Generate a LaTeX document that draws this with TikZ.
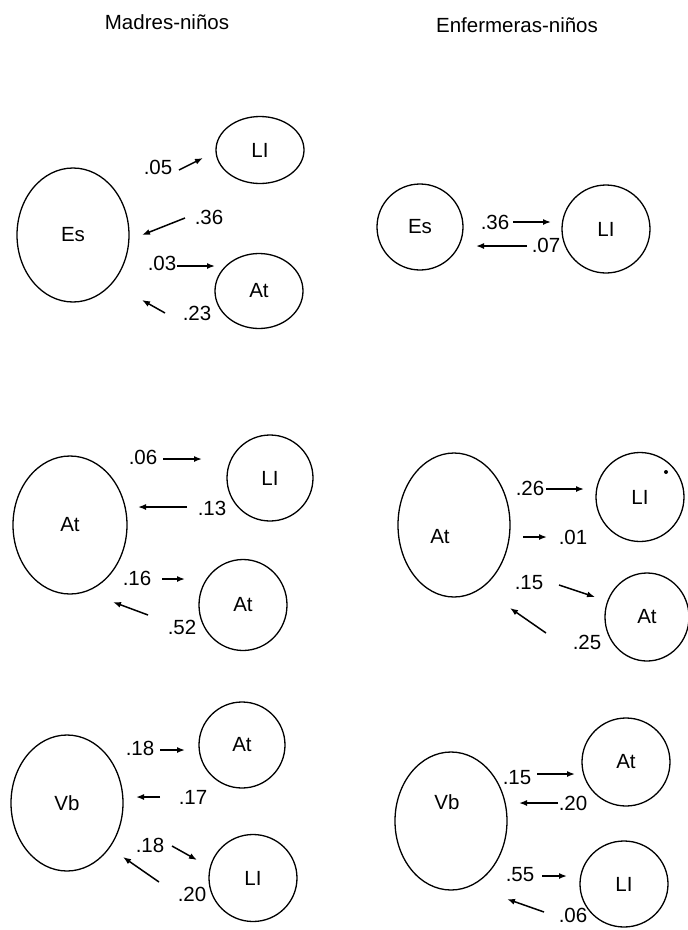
\documentclass[tikz,border=0pt]{standalone}
\usepackage{fontspec}
\setmainfont{Liberation Sans}
\usetikzlibrary{shapes.geometric,arrows.meta}

\tikzset{
  txt/.style={font=\fontsize{20.5}{24}\selectfont, inner sep=0pt},
  ell/.style={draw, ellipse, line width=1.3pt, inner sep=0pt, font=\fontsize{20.5}{24}\selectfont},
  bigell/.style={ell, minimum width=112pt, minimum height=137pt},
  smallell/.style={ell, minimum width=88pt, minimum height=86pt},
  arr/.style={line width=1.5pt, -{Latex[length=8pt,width=6pt]}}
}

\begin{document}
\begin{tikzpicture}[x=1pt, y=-1pt]
\useasboundingbox (0,0) rectangle (688,930);

% Column titles
\node[txt] (tm) at (167,22) {Madres-niños};
\node[txt] (te) at (517,25) {Enfermeras-niños};

% Madres-niños, Es
\node[bigell, minimum height=134pt] (mes) at (73,235) {Es};
\node[smallell, minimum height=67pt] (mesli) at (260,150) {LI};
\node[smallell, minimum height=75pt] (mesat) at (259,291) {At};
\node[txt] (l1) at (158,167) {.05};
\node[txt] (l2) at (209,217) {.36};
\node[txt] (l3) at (162,263) {.03};
\node[txt] (l4) at (197,313) {.23};
\coordinate (a1) at (179,170); \coordinate (b1) at (203,158);
\coordinate (a2) at (185,218); \coordinate (b2) at (142,235);
\coordinate (a3) at (177,266); \coordinate (b3) at (215,266);
\coordinate (a4) at (165,313); \coordinate (b4) at (142,300);

% Enfermeras-niños, Es
\node[smallell, minimum width=86pt] (ees) at (420,227) {Es};
\node[smallell, minimum height=88pt] (eesli) at (606,229) {LI};
\node[txt] (l5) at (495,222) {.36};
\node[txt] (l6) at (546,245) {.07};
\coordinate (a5) at (513,222); \coordinate (b5) at (551,222);
\coordinate (a6) at (527,246); \coordinate (b6) at (476,246);

% Madres-niños, At
\node[bigell, minimum width=114pt, minimum height=138pt] (mat) at (70,525) {At};
\node[smallell, minimum width=86pt] (matli) at (270,478) {LI};
\node[smallell, minimum height=91pt] (matat) at (243,605) {At};
\node[txt] (l7) at (143,457) {.06};
\node[txt] (l8) at (212,508) {.13};
\node[txt] (l9) at (137,578) {.16};
\node[txt] (l10) at (182,627) {.52};
\coordinate (a7) at (163,459); \coordinate (b7) at (202,459);
\coordinate (a8) at (187,507); \coordinate (b8) at (138,507);
\coordinate (a9) at (162,579); \coordinate (b9) at (185,579);
\coordinate (a10) at (148,615); \coordinate (b10) at (113,602);

% Enfermeras-niños, At
\node[bigell, minimum height=144pt, label={[txt, xshift=-14pt, yshift=-12pt]center:At}] (eat) at (454,525) {};
\node[smallell, minimum height=89pt] (eatli) at (640,497) {LI};
\node[smallell, minimum width=84pt, minimum height=88pt] (eatat) at (647,617) {At};
\fill (666,472) circle (2pt);
\node[txt] (l11) at (530,488) {.26};
\node[txt] (l12) at (573,537) {.01};
\node[txt] (l13) at (529,583) {.15};
\node[txt] (l14) at (587,642) {.25};
\coordinate (a11) at (546,489); \coordinate (b11) at (584,489);
\coordinate (a12) at (523,537); \coordinate (b12) at (547,537);
\coordinate (a13) at (559,585); \coordinate (b13) at (595,597);
\coordinate (a14) at (546,633); \coordinate (b14) at (510,608);

% Madres-niños, Vb
\node[bigell, minimum height=136pt] (mvb) at (67,803) {Vb};
\node[smallell, minimum width=86pt] (mvbat) at (242,745) {At};
\node[smallell, minimum height=87pt] (mvbli) at (253,878) {LI};
\node[txt] (l15) at (140,748) {.18};
\node[txt] (l16) at (193,797) {.17};
\node[txt] (l17) at (150,845) {.18};
\node[txt] (l18) at (192,894) {.20};
\coordinate (a15) at (160,750); \coordinate (b15) at (185,750);
\coordinate (a16) at (160,797); \coordinate (b16) at (136,797);
\coordinate (a17) at (172,846); \coordinate (b17) at (197,860);
\coordinate (a18) at (159,882); \coordinate (b18) at (123,857);

% Enfermeras-niños, Vb
\node[bigell, minimum height=138pt, label={[txt, xshift=-4pt, yshift=19pt]center:Vb}] (evb) at (451,821) {};
\node[smallell, minimum height=88pt] (evbat) at (626,762) {At};
\node[smallell] (evbli) at (624,884) {LI};
\node[txt] (l19) at (517,778) {.15};
\node[txt] (l20) at (573,803) {.20};
\node[txt] (l21) at (520,875) {.55};
\node[txt] (l22) at (573,915) {.06};
\coordinate (a19) at (537,774); \coordinate (b19) at (575,774);
\coordinate (a20) at (558,803); \coordinate (b20) at (519,803);
\coordinate (a21) at (542,876); \coordinate (b21) at (567,876);
\coordinate (a22) at (544,912); \coordinate (b22) at (507,899);

% Arrows between the ellipses
\foreach \i in {1,...,22}
  \draw[arr] (a\i) -- (b\i);
\end{tikzpicture}
\end{document}
